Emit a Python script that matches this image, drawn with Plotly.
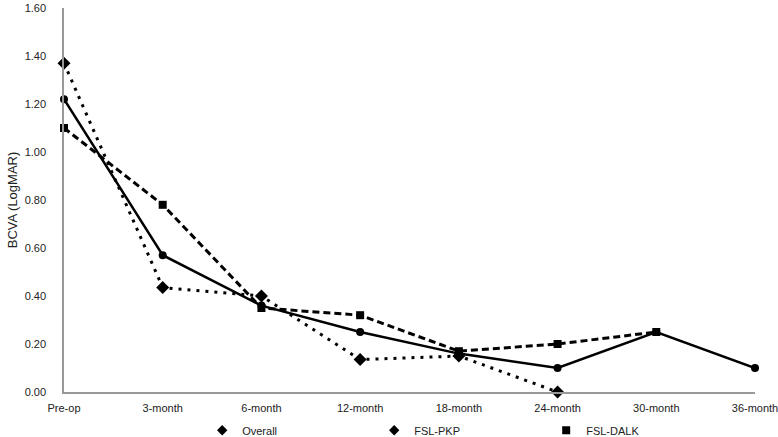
import plotly.graph_objects as go

categories = ["Pre-op", "3-month", "6-month", "12-month", "18-month", "24-month", "30-month", "36-month"]
overall = [1.22, 0.57, 0.36, 0.25, 0.16, 0.10, 0.25, 0.10]
fsl_pkp = [1.37, 0.435, 0.40, 0.135, 0.15, 0.00, None, None]
fsl_dalk = [1.10, 0.78, 0.35, 0.32, 0.17, 0.20, 0.25, None]
y_ticks = [0, 0.2, 0.4, 0.6, 0.8, 1.0, 1.2, 1.4, 1.6]

xs = list(range(len(categories)))
fig = go.Figure()
fig.add_trace(go.Scatter(x=xs, y=fsl_dalk, mode="lines+markers", showlegend=False,
                         line=dict(color="black", width=3, dash="7px,4px"),
                         marker=dict(symbol="square", size=8, color="black"), cliponaxis=False))
fig.add_trace(go.Scatter(x=xs, y=fsl_pkp, mode="lines+markers", showlegend=False,
                         line=dict(color="black", width=3, dash="3px,6px"),
                         marker=dict(symbol="diamond", size=10, color="black"), cliponaxis=False))
fig.add_trace(go.Scatter(x=xs, y=overall, mode="lines+markers", showlegend=False,
                         line=dict(color="black", width=2.5),
                         marker=dict(symbol="circle", size=8, color="black"), cliponaxis=False))
# legend entries (markers only)
for name, sym in [("Overall", "diamond"), ("FSL-PKP", "diamond"), ("FSL-DALK", "square")]:
    fig.add_trace(go.Scatter(x=[None], y=[None], mode="markers", name=name,
                             marker=dict(symbol=sym, size=8, color="black")))

fig.update_layout(
    width=778, height=437,
    margin=dict(l=64, r=23, t=8, b=45, autoexpand=False),
    plot_bgcolor="white", paper_bgcolor="white",
    font=dict(family="Liberation Sans, Arial", size=11, color="#222"),
    legend=dict(orientation="h", x=0.2, xanchor="left", y=-0.062, yanchor="top",
                font=dict(size=11), tracegroupgap=0, entrywidth=127,
                itemwidth=30, bgcolor="rgba(0,0,0,0)"),
    xaxis=dict(tickmode="array", tickvals=xs, ticktext=categories, range=[0, 7],
               showgrid=False, zeroline=False, showline=True, linecolor="#999",
               linewidth=1.5, ticks="", ticklabelstandoff=5, automargin=False,
               ticklabeloverflow="allow"),
    yaxis=dict(range=[0, 1.6], tickvals=y_ticks, tickformat=".2f", showgrid=False,
               zeroline=False, showline=True, linecolor="#999", linewidth=1.5,
               ticks="", ticklabelstandoff=14, automargin=False,
               title=dict(text="BCVA (LogMAR)", standoff=4)),
)
fig.write_html("out.html", config={"displayModeBar": False},
               post_script="document.body.style.margin='0';document.body.style.overflow='hidden';")
